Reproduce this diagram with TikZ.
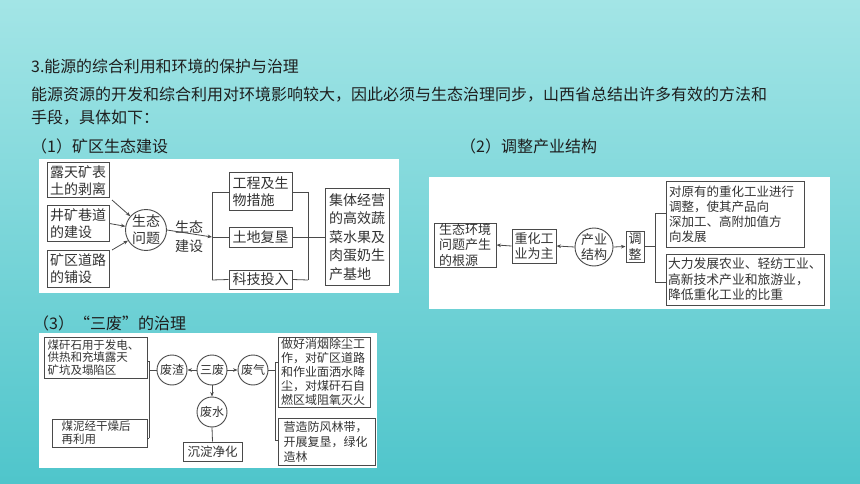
\documentclass[tikz,border=0pt]{standalone}
\usepackage{fontspec}
\setmainfont{Noto Sans CJK SC}
\usetikzlibrary{arrows.meta}
\definecolor{bgtop}{HTML}{A3E5E6}
\definecolor{bgbot}{HTML}{4FC5CB}
\definecolor{ink}{HTML}{1E1E1E}
\definecolor{dink}{HTML}{333333}
\definecolor{lncol}{HTML}{4A4A4A}
\tikzset{
  hd/.style={anchor=west, inner sep=0pt, text=ink, font=\fontsize{16}{19}\selectfont},
  bx/.style={draw=lncol, line width=1pt, fill=white, inner sep=0pt, align=left, text=dink},
  cc/.style={circle, draw=lncol, line width=0.9pt, fill=white, inner sep=0pt, align=center, text=dink},
  ar/.style={draw=lncol, line width=0.8pt, -{Stealth[length=4.5pt,width=3.6pt]}},
  wire/.style={draw=lncol, line width=0.8pt},
  fA/.style={font=\fontsize{14}{17}\selectfont},
  fB/.style={font=\fontsize{13}{15.5}\selectfont},
  fC/.style={font=\fontsize{12.5}{15}\selectfont},
  fD/.style={font=\fontsize{11.5}{12.8}\selectfont},
  fE/.style={font=\fontsize{12}{13.8}\selectfont},
}
\begin{document}
\begin{tikzpicture}[x=1pt,y=-1pt]
\shade[top color=bgtop,bottom color=bgbot] (0,0) rectangle (860,484);
\useasboundingbox (0,0) rectangle (860,484);

% headings
\node[hd, font=\fontsize{15.9}{18}\selectfont] (t1) at (31,66.5) {3.能源的综合利用和环境的保护与治理};
\node[hd] (t2) at (31,95) {能源资源的开发和综合利用对环境影响较大，因此必须与生态治理同步，山西省总结出许多有效的方法和};
\node[hd] (t3) at (31,118) {手段，具体如下：};
\node[hd] (t4) at (31,146.5) {（1）矿区生态建设};
\node[hd] (t5) at (460,146.5) {（2）调整产业结构};
\node[hd] (t6) at (33,323) {（3）“三废”的治理};

% panels
\fill[white] (39,159) rectangle (399,293);
\fill[white] (429,177) rectangle (830,309);
\fill[white] (39,333) rectangle (377,468);

% ---------- panel 1 ----------
\node[bx, fA, minimum width=62pt, minimum height=35pt] (a1) at (78,180.5) {露天矿表\\土的剥离};
\node[bx, fA, minimum width=62pt, minimum height=35pt] (a2) at (78,223.5) {井矿巷道\\的建设};
\node[bx, fA, minimum width=62pt, minimum height=37pt] (a3) at (78,268.5) {矿区道路\\的铺设};
\node[cc, fA, minimum size=40pt] (c1) at (146,230) {生态\\问题};
\draw[ar] (112,200) -- (c1);
\draw[ar] (a2.east) -- (c1);
\draw[ar] (112,250) -- (c1);
\node[fA, inner sep=0pt, align=center, text=dink, font=\fontsize{14}{19}\selectfont] (lb) at (189,237) {生态\\建设};
\coordinate (j1) at (212,237);
\coordinate (j1t) at (212,192);
\coordinate (j1b) at (212,280);
\draw[ar] (c1.east) -- (j1);
\node[bx, fA, minimum width=63pt, minimum height=38pt] (e1) at (260.5,192) {工程及生\\物措施};
\node[bx, fA, minimum width=63pt, minimum height=20pt] (e2) at (260.5,237) {土地复垦};
\node[bx, fA, minimum width=63pt, minimum height=19pt] (e3) at (260.5,279.5) {科技投入};
\draw[wire] (j1t) -- (j1b);
\draw[wire] (j1t) -- (e1.west);
\draw[wire] (j1b) -- (e3.west);
\draw[wire] (j1) -- (e2.west);
\node[bx, fA, font=\fontsize{14}{18.4}\selectfont, minimum width=64pt, minimum height=96pt] (f1) at (357,237) {集体经营\\的高效蔬\\菜水果及\\肉蛋奶生\\产基地};
\coordinate (k1t) at (308,192);
\coordinate (k1b) at (308,280);
\draw[wire] (k1t) -- (k1b);
\draw[wire] (e1.east) -- (k1t);
\draw[wire] (e3.east) -- (k1b);
\draw[wire] (e2.east) -- (f1.west);

% ---------- panel 2 ----------
\node[bx, fB, minimum width=62pt, minimum height=44pt] (g1) at (465,245) {生态环境\\问题产生\\的根源};
\node[bx, fB, minimum width=44pt, minimum height=34pt] (h1) at (534,246) {重化工\\业为主};
\node[cc, fB, minimum size=38pt] (c2) at (594,247) {产业\\结构};
\node[bx, fB, minimum width=18pt, minimum height=31pt, align=center] (k2) at (635,246.5) {调\\整};
\draw[ar] (h1.west) -- (g1.east);
\draw[ar] (c2.west) -- (h1.east);
\draw[ar] (c2.east) -- (k2.west);
\coordinate (j2) at (655,246.5);
\coordinate (j2t) at (655,213);
\coordinate (j2b) at (655,282);
\draw[wire] (k2.east) -- (j2);
\draw[wire] (j2t) -- (j2b);
\node[bx, fC, minimum width=138pt, minimum height=65pt, text width=132pt] (m1) at (735,214.5) {对原有的重化工业进行\\调整，使其产品向\\深加工、高附加值方\\向发展};
\node[bx, fC, font=\fontsize{12.8}{15.5}\selectfont, minimum width=158pt, minimum height=51pt, text width=154pt] (n1) at (745,279.5) {大力发展农业、轻纺工业、\\高新技术产业和旅游业，\\降低重化工业的比重};
\draw[wire] (j2t) -- (j2t -| m1.west);
\draw[wire] (j2b) -- (j2b -| n1.west);

% ---------- panel 3 ----------
\node[bx, fD, minimum width=103pt, minimum height=41pt, text width=96pt] (p1) at (95.5,357.5) {煤矸石用于发电、\\供热和充填露天\\矿坑及塌陷区};
\node[bx, fD, minimum width=95pt, minimum height=28pt, text width=76pt] (p2) at (99.5,433) {煤泥经干燥后\\再利用};
\node[cc, fE, minimum size=30pt] (w1) at (172,370) {废渣};
\node[cc, fE, minimum size=30pt] (w0) at (212,370) {三废};
\node[cc, fE, minimum size=30pt] (w2) at (253,370) {废气};
\node[cc, fE, minimum size=30pt] (w3) at (212,412) {废水};
\node[bx, fC, minimum width=59pt, minimum height=19pt, align=center] (s1) at (212.5,451.5) {沉淀净化};
\draw[ar] (w0.west) -- (w1.east);
\draw[ar] (w0.east) -- (w2.west);
\draw[ar] (w0.south) -- (w3.north);
\draw[wire] (w3.south) -- (s1.north);
\coordinate (L) at (149,370);
\coordinate (Lt) at (149,361);
\coordinate (Lb) at (149,438);
\draw[wire] (w1.west) -- (L);
\draw[wire] (Lt) -- (Lb);
\draw[wire] (Lt) -- (Lt -| p1.east);
\draw[wire] (Lb) -- (Lb -| p2.east);
\node[bx, fE, minimum width=92pt, minimum height=70pt, text width=86pt] (q1) at (324,372) {做好消烟除尘工\\作，对矿区道路\\和作业面洒水降\\尘，对煤矸石自\\燃区域阻氧灭火};
\node[bx, fE, font=\fontsize{12}{15}\selectfont, minimum width=97pt, minimum height=47pt, text width=86pt] (q2) at (326.5,441.5) {营造防风林带，\\开展复垦，绿化\\造林};
\coordinate (R) at (275,370);
\coordinate (Rt) at (275,362);
\coordinate (Rb) at (275,440);
\draw[wire] (w2.east) -- (R);
\draw[wire] (Rt) -- (Rb);
\draw[wire] (Rt) -- (Rt -| q1.west);
\draw[wire] (Rb) -- (Rb -| q2.west);
\end{tikzpicture}
\end{document}
